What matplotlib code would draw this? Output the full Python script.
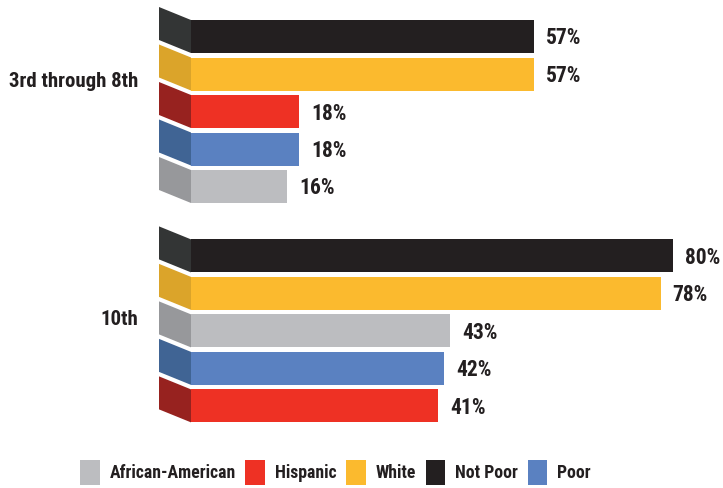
import numpy as np
import matplotlib.pyplot as plt
from matplotlib.patches import Polygon, Patch

# Share of students by grade band and group (percent).
groups = ['3rd through 8th', '10th']
group1_names = ['Not Poor', 'White', 'Hispanic', 'Poor', 'African-American']
group1_values = [57, 57, 18, 18, 16]
group2_names = ['Not Poor', 'White', 'African-American', 'Poor', 'Hispanic']
group2_values = [80, 78, 43, 42, 41]
legend_order = ['African-American', 'Hispanic', 'White', 'Not Poor', 'Poor']

colors = {'Not Poor': '#231f20', 'White': '#fbba2e', 'Hispanic': '#ee3124',
          'Poor': '#5a81c1', 'African-American': '#bcbdc0'}
side_colors = {'Not Poor': '#333535', 'White': '#dba42a', 'Hispanic': '#97221f',
               'Poor': '#406494', 'African-American': '#97989b'}

plt.rcParams['font.family'] = ['Roboto Condensed', 'DejaVu Sans']
plt.rcParams['font.stretch'] = 'condensed'
plt.rcParams['font.weight'] = 'bold'
text_color = '#231f20'

W, H = 723, 488
fig = plt.figure(figsize=(W / 100, H / 100), dpi=100)
ax = fig.add_axes([159 / W, 48 / H, 1 - 159 / W, 1 - 48 / H])

# pixel scale: ~6.02 px per percent, bars start at x=191 px
px_per_pct = 6.02
tab_w = 32 / px_per_pct
ax.set_xlim(-tab_w, (W - 191) / px_per_pct)
pitch = 37.5
ax.set_ylim((H - 48 - 36.5) / pitch, -36.5 / pitch)
ax.axis('off')

bar_h = 33 / pitch
shear = 13 / pitch

pos1 = np.arange(5)
pos2 = np.arange(5) + 5.85

for names, values, pos in [(group1_names, group1_values, pos1),
                           (group2_names, group2_values, pos2)]:
    ax.barh(pos, values, height=bar_h, color=[colors[n] for n in names],
            edgecolor='none')
    for n, v, y in zip(names, values, pos):
        top, bot = y - bar_h / 2, y + bar_h / 2
        # darker slanted side panel at the bar's left end
        ax.add_patch(Polygon([(-tab_w, top - shear), (0, top), (0, bot),
                              (-tab_w, bot - shear)], closed=True,
                             facecolor=side_colors[n], edgecolor='none'))
        ax.annotate(f'{v}%', (v, y), xytext=(12, -2), textcoords='offset pixels',
                    ha='left', va='center', fontsize=15.5, color=text_color,
                    annotation_clip=False)

label_x = -(191 - 138) / px_per_pct
ax.text(label_x, pos1.mean() - 0.8, groups[0], ha='right', va='center',
        fontsize=15, color=text_color, clip_on=False)
ax.text(label_x, pos2.mean() - 0.3, groups[1], ha='right', va='center',
        fontsize=15, color=text_color, clip_on=False)

handles = [Patch(facecolor=colors[n], edgecolor='none', label=n) for n in legend_order]
fig.legend(handles=handles, loc='lower left', bbox_to_anchor=(80 / W, 1 - 485 / H),
           ncol=5, frameon=False, fontsize=12.8, borderpad=0, borderaxespad=0,
           handlelength=1.1, handleheight=1.75, handletextpad=0.55,
           columnspacing=0.55, labelcolor=text_color)

fig.savefig('out.png', dpi=100)
